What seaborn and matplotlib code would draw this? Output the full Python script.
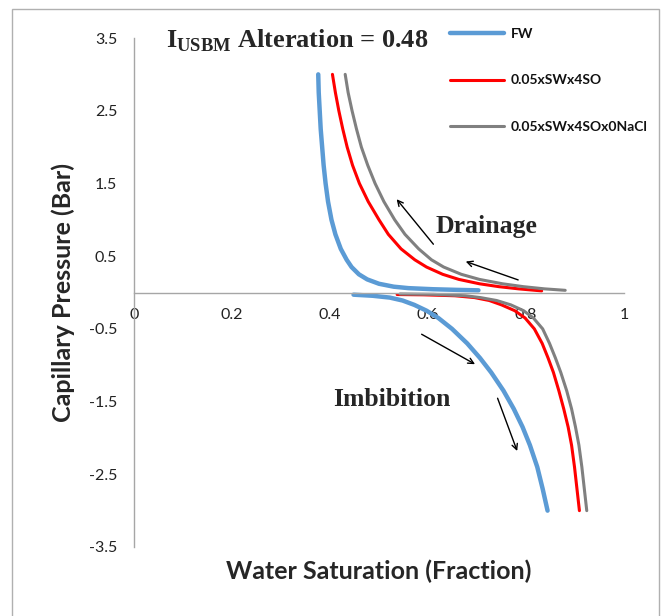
import matplotlib
matplotlib.use("Agg")
import matplotlib.pyplot as plt
import seaborn as sns
import pandas as pd
from matplotlib.patches import Rectangle

# ---------------- data ----------------
dr_pc = [3.0, 2.75, 2.5, 2.25, 2.0, 1.75, 1.5, 1.25, 1.0, 0.8, 0.6, 0.45, 0.35, 0.25,
         0.18, 0.12, 0.08, 0.06, 0.045, 0.036, 0.03]
fw_dr_sw = [0.376, 0.377, 0.379, 0.381, 0.384, 0.387, 0.391, 0.396, 0.403, 0.411, 0.422,
            0.434, 0.444, 0.459, 0.476, 0.500, 0.530, 0.560, 0.610, 0.660, 0.703]

sw4_dr_pc = [3.0, 2.75, 2.5, 2.25, 2.0, 1.75, 1.5, 1.25, 1.0, 0.8, 0.6, 0.45, 0.35, 0.25,
             0.18, 0.12, 0.08, 0.05, 0.022]
sw4_dr_sw = [0.405, 0.411, 0.418, 0.426, 0.435, 0.446, 0.460, 0.478, 0.500, 0.519, 0.545,
             0.573, 0.597, 0.630, 0.663, 0.705, 0.745, 0.785, 0.832]

nacl_dr_pc = [3.0, 2.75, 2.5, 2.25, 2.0, 1.75, 1.5, 1.25, 1.0, 0.8, 0.6, 0.45, 0.35, 0.25,
              0.18, 0.12, 0.08, 0.05, 0.03]
nacl_dr_sw = [0.431, 0.437, 0.445, 0.454, 0.464, 0.477, 0.492, 0.510, 0.532, 0.553, 0.581,
              0.607, 0.632, 0.668, 0.705, 0.752, 0.795, 0.838, 0.880]

fw_im_pc = [-0.03, -0.045, -0.07, -0.11, -0.17, -0.25, -0.35, -0.5, -0.7, -0.9, -1.1,
            -1.35, -1.6, -1.85, -2.1, -2.4, -2.7, -3.0]
fw_im_sw = [0.448, 0.487, 0.522, 0.548, 0.572, 0.597, 0.621, 0.649, 0.680, 0.706, 0.729,
            0.754, 0.775, 0.793, 0.808, 0.823, 0.834, 0.844]

sw4_im_pc = [-0.028, -0.032, -0.045, -0.07, -0.11, -0.17, -0.25, -0.35, -0.5, -0.7, -0.9,
             -1.1, -1.35, -1.6, -1.85, -2.1, -2.4, -2.7, -3.0]
sw4_im_sw = [0.537, 0.591, 0.655, 0.695, 0.725, 0.750, 0.777, 0.798, 0.817, 0.833, 0.845,
             0.856, 0.867, 0.877, 0.886, 0.893, 0.899, 0.904, 0.909]

nacl_im_pc = [-0.02, -0.025, -0.045, -0.07, -0.11, -0.17, -0.25, -0.35, -0.5, -0.7, -0.9,
              -1.1, -1.35, -1.6, -1.85, -2.1, -2.4, -2.7, -3.0]
nacl_im_sw = [0.543, 0.611, 0.677, 0.707, 0.740, 0.769, 0.795, 0.815, 0.834, 0.848, 0.860,
              0.871, 0.883, 0.893, 0.901, 0.908, 0.914, 0.919, 0.924]

series_names = ["FW", "0.05xSWx4SO", "0.05xSWx4SOx0NaCl"]
y_ticks = [-3.5, -2.5, -1.5, -0.5, 0.5, 1.5, 2.5, 3.5]
y_tick_labels = ["-3.5", "-2.5", "-1.5", "-0.5", "0.5", "1.5", "2.5", "3.5"]
x_ticks = [0, 0.2, 0.4, 0.6, 0.8, 1.0]
x_tick_labels = ["0", "0.2", "0.4", "0.6", "0.8", "1"]

# ---------------- style ----------------
sns.set_style("white")
plt.rcParams["font.family"] = ["Lato", "DejaVu Sans"]
plt.rcParams["mathtext.fontset"] = "custom"
plt.rcParams["mathtext.rm"] = "Liberation Serif:bold"
plt.rcParams["mathtext.bf"] = "Liberation Serif:bold"

colors = {"FW": "#5B9BD5", "0.05xSWx4SO": "#FF0000", "0.05xSWx4SOx0NaCl": "#808080"}
widths = {"FW": 3.2, "0.05xSWx4SO": 2.2, "0.05xSWx4SOx0NaCl": 2.2}

fig = plt.figure(figsize=(6.62, 6.16), dpi=100)
ax = fig.add_axes([134 / 662, 69 / 616, 490 / 662, 509 / 616])

curves = [
    ("FW", fw_dr_sw, dr_pc, True),
    ("FW", fw_im_sw, fw_im_pc, False),
    ("0.05xSWx4SO", sw4_dr_sw, sw4_dr_pc, True),
    ("0.05xSWx4SO", sw4_im_sw, sw4_im_pc, False),
    ("0.05xSWx4SOx0NaCl", nacl_dr_sw, nacl_dr_pc, True),
    ("0.05xSWx4SOx0NaCl", nacl_im_sw, nacl_im_pc, False),
]
for name, sw, pc, lab in curves:
    df = pd.DataFrame({"Sw": sw, "Pc": pc})
    kw = {"label": name} if lab else {}
    sns.lineplot(data=df, x="Sw", y="Pc", sort=False, estimator=None, ax=ax,
                 color=colors[name], lw=widths[name], solid_capstyle="round",
                 solid_joinstyle="round", **kw)

ax.set_xlim(0, 1)
ax.set_ylim(-3.5, 3.5)
for s in ["top", "right"]:
    ax.spines[s].set_visible(False)
ax.spines["bottom"].set_position(("data", 0))
for s in ["left", "bottom"]:
    ax.spines[s].set_color("#a6a6a6")
    ax.spines[s].set_linewidth(1.0)

ax.set_yticks(y_ticks)
ax.set_yticklabels(y_tick_labels)
ax.set_xticks(x_ticks)
ax.set_xticklabels(x_tick_labels)
ax.tick_params(axis="y", direction="in", length=5, width=1, color="#a6a6a6",
               pad=12, labelsize=11.5, labelcolor="#222222")
ax.tick_params(axis="x", direction="inout", length=10, width=1, color="#a6a6a6",
               pad=6.5, labelsize=11.5, labelcolor="#222222")

ax.set_xlabel("Water Saturation (Fraction)", fontsize=18, fontweight="bold")
ax.xaxis.set_label_coords(0.5, (616 - 560 - 69) / 509)
ax.set_ylabel("Capillary Pressure (Bar)", fontsize=18, fontweight="bold")
ax.yaxis.label.set_verticalalignment("center")
ax.yaxis.set_label_coords((63 - 134) / 490, 0.5)

# arrows
arrow_kw = dict(arrowstyle="->", lw=1.0, color="black", shrinkA=0, shrinkB=0)
ax.annotate("", xy=(0.536, 1.283), xytext=(0.611, 0.664), arrowprops=arrow_kw)
ax.annotate("", xy=(0.677, 0.426), xytext=(0.784, 0.173), arrowprops=arrow_kw)
ax.annotate("", xy=(0.696, -0.986), xytext=(0.587, -0.574), arrowprops=arrow_kw)
ax.annotate("", xy=(0.782, -2.18), xytext=(0.742, -1.454), arrowprops=arrow_kw)

# texts (figure pixel positions)
def fx(px):
    return px / 662

def fy(py):
    return 1 - py / 616

fig.text(fx(166), fy(47), r"I$_{\mathbf{USBM}}$ Alteration = 0.48", family="Liberation Serif",
         fontweight="bold", fontsize=19, ha="left", va="baseline")
fig.text(fx(436), fy(233), "Drainage", family="Liberation Serif", fontweight="bold",
         fontsize=18.5, ha="left", va="baseline")
fig.text(fx(333), fy(406), "Imbibition", family="Liberation Serif", fontweight="bold",
         fontsize=18.5, ha="left", va="baseline")

# legend
leg = ax.legend(loc="upper left", bbox_to_anchor=(fx(450), fy(28)), bbox_transform=fig.transFigure,
                frameon=False, fontsize=10, handlelength=3.9, handletextpad=0.5,
                labelspacing=2.48, borderpad=0, borderaxespad=0)
for t in leg.get_texts():
    t.set_fontweight("bold")
    t.set_color("#111111")

# outer chart frame
fig.patches.append(Rectangle((fx(12), -0.02), fx(659) - fx(12), fy(9) + 0.02,
                             transform=fig.transFigure, fill=False, edgecolor="#b0b0b0",
                             lw=1.0, clip_on=False))

fig.savefig("out.png", dpi=100)
